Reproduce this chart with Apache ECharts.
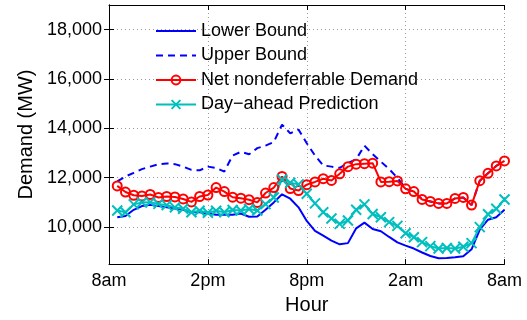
<!DOCTYPE html>
<html><head><meta charset="utf-8">
<script src="https://cdn.jsdelivr.net/npm/echarts@6/dist/echarts.min.js"></script>
<style>html,body{margin:0;padding:0;background:#fff}#c{width:527px;height:320px}</style>
</head><body><div id="c"></div>
<script>
const hourTickLabels = ['8am', '2pm', '8pm', '2am', '8am'];
const yTicks = [10000, 12000, 14000, 16000, 18000];
const hours = [0.5,1,1.5,2,2.5,3,3.5,4,4.5,5,5.5,6,6.5,7,7.5,8,8.5,9,9.5,10,10.5,11,11.5,12,
  12.5,13,13.5,14,14.5,15,15.5,16,16.5,17,17.5,18,18.5,19,19.5,20,20.5,21,21.5,22,22.5,23,23.5,24];
const lowerBound = [10400,10450,10700,10850,10900,10850,10800,10750,10700,10600,10600,10550,
  10500,10500,10500,10550,10420,10430,10700,11000,11330,11150,10800,10250,
  9850,9650,9450,9300,9350,9950,10180,9920,9830,9600,9380,9250,
  9130,8970,8830,8740,8750,8780,8820,9100,9900,10300,10400,10700];
const upperBound = [11850,12050,12200,12350,12450,12550,12580,12550,12450,12320,12300,12450,
  12400,12250,12900,13050,12950,13200,13300,13450,14150,13800,13950,13400,
  12900,12500,12450,12400,12600,12750,13300,12950,12650,12350,12000,11550,
  11440,11120,11040,10960,10960,11160,11200,10890,11880,12180,12480,12680];
const netDemand = [11670,11420,11290,11260,11320,11200,11240,11220,11140,11020,11240,11300,
  11600,11440,11210,11170,11110,11000,11380,11600,12050,11560,11480,11720,
  11830,11960,11890,12160,12450,12550,12570,12590,11830,11840,11870,11550,
  11440,11120,11040,10960,10960,11160,11200,10890,11880,12180,12480,12680];
const dayAhead = [10670,10600,10920,11000,11010,10940,10890,10800,10740,10600,10660,10580,
  10660,10600,10690,10670,10730,10670,10930,11200,11930,11800,11730,11350,
  10960,10600,10350,10130,10270,10700,10920,10530,10400,10200,10050,9750,
  9590,9390,9230,9130,9150,9130,9200,9350,10000,10520,10740,11120];

const pair = arr => hours.map((h, k) => [h, arr[k]]);
const FONT = 'Liberation Sans';
const fmt = v => String(v).replace(/\B(?=(\d{3})+(?!\d))/g, ',');

const chart = echarts.init(document.getElementById('c'), null, {renderer: 'canvas'});
const gridLine = {show: true, lineStyle: {color: '#9a9a9a', type: [1, 3], width: 1}};
const axisLineBlack = {show: true, lineStyle: {color: '#000', width: 1}};
chart.setOption({
  animation: false,
  backgroundColor: '#fff',
  textStyle: {fontFamily: FONT},
  grid: {left: 109, right: 22.5, top: 5, bottom: 52, containLabel: false},
  legend: {
    orient: 'vertical', left: 150, top: 17,
    itemWidth: 40, itemHeight: 11, itemGap: 6.5,
    textStyle: {fontFamily: FONT, fontSize: 18, color: '#000'},
    data: [
      {name: 'Lower Bound', itemStyle: {opacity: 0}},
      {name: 'Upper Bound', itemStyle: {opacity: 0}},
      'Net nondeferrable Demand',
      'Day\u2212ahead Prediction'
    ]
  },
  xAxis: [{
    type: 'value', min: 0, max: 24, interval: 6,
    name: 'Hour', nameLocation: 'middle', nameGap: 29,
    nameTextStyle: {fontFamily: FONT, fontSize: 20, color: '#000'},
    axisLine: axisLineBlack,
    axisTick: {show: true, inside: true, length: 5, lineStyle: {color: '#000'}},
    axisLabel: {fontFamily: FONT, fontSize: 18, color: '#000', margin: 8,
      formatter: v => hourTickLabels[Math.round(v / 6)]},
    splitLine: gridLine
  }, {
    type: 'value', min: 0, max: 24, interval: 6, position: 'top',
    axisLine: axisLineBlack,
    axisTick: {show: true, inside: true, length: 5, lineStyle: {color: '#000'}},
    axisLabel: {show: false}, splitLine: {show: false}
  }],
  yAxis: [{
    type: 'value', min: 8500, max: 19000,
    name: 'Demand (MW)', nameLocation: 'middle', nameGap: 70,
    nameTextStyle: {fontFamily: FONT, fontSize: 20, color: '#000'},
    axisLine: axisLineBlack,
    axisTick: {show: true, inside: true, length: 5, lineStyle: {color: '#000'}, customValues: yTicks},
    axisLabel: {fontFamily: FONT, fontSize: 18, color: '#000', margin: 7, customValues: yTicks, formatter: fmt},
    splitLine: gridLine
  }, {
    type: 'value', min: 8500, max: 19000, position: 'right',
    axisLine: axisLineBlack,
    axisTick: {show: true, inside: true, length: 5, lineStyle: {color: '#000'}, customValues: yTicks},
    axisLabel: {show: false, customValues: yTicks}, splitLine: {show: false}
  }],
  series: [{
    name: 'Lower Bound', type: 'line', data: pair(lowerBound),
    symbol: 'none', lineStyle: {color: '#0000ff', width: 2}, itemStyle: {color: '#0000ff'}
  }, {
    name: 'Upper Bound', type: 'line', data: pair(upperBound),
    symbol: 'none', lineStyle: {color: '#0000ff', width: 2, type: [7, 5]}, itemStyle: {color: '#0000ff'}
  }, {
    name: 'Net nondeferrable Demand', type: 'line', data: pair(netDemand),
    symbol: 'circle', symbolSize: 9, showSymbol: true,
    lineStyle: {color: '#ff0000', width: 2},
    itemStyle: {color: 'rgba(255,255,255,0)', borderColor: '#ff0000', borderWidth: 2}
  }, {
    name: 'Day\u2212ahead Prediction', type: 'line', data: pair(dayAhead),
    symbol: 'path://M0,0L10,10M0,10L10,0', symbolSize: 10, showSymbol: true,
    lineStyle: {color: '#00bfbf', width: 2},
    itemStyle: {color: '#00bfbf', borderColor: '#00bfbf', borderWidth: 2}
  }]
});
</script></body></html>
